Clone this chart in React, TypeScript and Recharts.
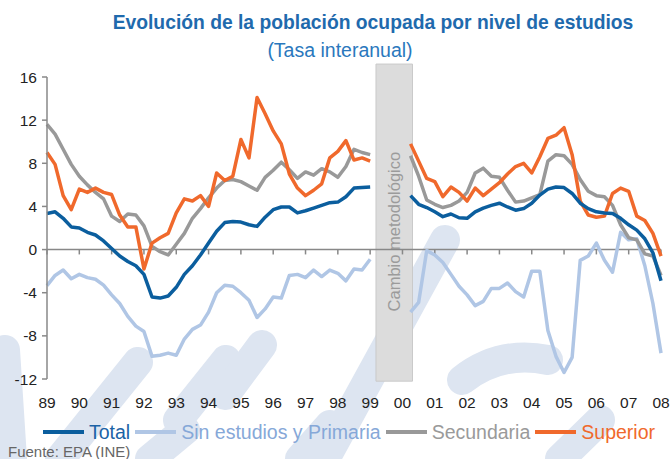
import React from 'react';
import { LineChart, Line, XAxis, YAxis, ReferenceLine, ReferenceArea } from 'recharts';

// Quarterly observations 1989Q1 .. 2008Q1 (null = methodological break)
const yearLabels = ['89','90','91','92','93','94','95','96','97','98','99','00','01','02','03','04','05','06','07','08'];
const yearTicks = [1989,1990,1991,1992,1993,1994,1995,1996,1997,1998,1999,2000,2001,2002,2003,2004,2005,2006,2007,2008];
const quartersPerYear = ['T1','T2','T3','T4'];
const yTicks = [-12,-8,-4,0,4,8,12,16];

const totalSeries: (number | null)[] = [
  3.35, 3.5, 2.9, 2.1, 2.0, 1.6, 1.35, 0.8, 0.1, -0.6,
  -1.1, -1.5, -2.3, -4.4, -4.5, -4.3, -3.5, -2.3, -1.5, -0.5,
  0.6, 1.7, 2.5, 2.6, 2.55, 2.3, 2.15, 3.0, 3.7, 3.95,
  3.95, 3.4, 3.6, 3.85, 4.1, 4.35, 4.4, 4.9, 5.7, 5.75, 5.8,
  null, null, null, null,
  5.0, 4.2, 3.9, 3.5, 3.05, 3.3, 2.95, 2.9, 3.5, 3.85,
  4.1, 4.3, 3.95, 3.65, 3.8, 4.3, 5.05, 5.6, 5.8, 5.75,
  5.2, 4.3, 3.8, 3.5, 3.4, 3.35, 2.9, 2.3, 1.8, 1.0,
  -0.3, -2.9,
];

const sinEstudiosSeries: (number | null)[] = [
  -3.35, -2.4, -1.9, -2.7, -2.3, -2.6, -2.75, -3.3, -4.2, -5.0,
  -6.2, -7.1, -7.6, -9.9, -9.8, -9.6, -9.8, -8.3, -7.4, -7.0,
  -5.8, -4.0, -3.3, -3.4, -4.0, -4.7, -6.3, -5.5, -4.4, -4.5,
  -2.4, -2.3, -2.6, -1.9, -2.5, -1.9, -2.2, -2.9, -1.8, -1.9, -0.9,
  null, null, null, null,
  -5.8, -4.9, -0.1, -0.5, -1.2, -2.3, -3.4, -4.2, -5.2, -4.8,
  -3.6, -3.6, -3.1, -3.9, -4.4, -2.0, -2.0, -7.5, -9.9, -11.4,
  -10.0, -1.0, -0.6, 0.6, -1.0, -2.1, 1.6, 0.9, 1.0, -1.5,
  -5.0, -9.6,
];

const secundariaSeries: (number | null)[] = [
  11.6, 10.7, 9.3, 7.9, 6.8, 6.0, 5.3, 4.7, 3.1, 2.6,
  3.3, 3.2, 2.2, 0.3, -0.2, -0.5, 0.5, 1.5, 2.9, 3.8,
  4.8, 5.7, 6.4, 6.5, 6.3, 5.9, 5.5, 6.7, 7.35, 8.1,
  7.4, 6.6, 7.2, 6.9, 7.5, 7.2, 6.7, 7.7, 9.3, 9.0, 8.8,
  null, null, null, null,
  8.7, 6.8, 4.6, 4.2, 3.9, 4.1, 4.5, 5.3, 7.1, 7.55,
  6.8, 6.7, 5.5, 4.4, 4.5, 4.8, 5.1, 8.2, 8.8, 8.7,
  7.9, 6.5, 5.4, 5.0, 4.9, 4.1, 2.3, 1.1, 0.9, -0.4,
  -0.6, -2.4,
];

const superiorSeries: (number | null)[] = [
  9.0, 7.9, 5.0, 3.7, 5.6, 5.3, 5.7, 5.3, 5.1, 3.2,
  2.1, 2.1, -1.8, 0.6, 1.1, 1.5, 3.4, 4.7, 4.5, 5.0,
  4.0, 7.1, 6.4, 6.8, 10.2, 8.5, 14.1, 12.6, 11.0, 9.8,
  7.0, 5.7, 5.0, 5.5, 6.1, 8.5, 9.1, 10.1, 8.3, 8.5, 8.2,
  null, null, null, null,
  9.8, 8.2, 6.6, 6.3, 4.9, 5.8, 5.3, 4.5, 5.7, 5.0,
  5.6, 6.2, 7.0, 7.7, 8.0, 7.1, 8.6, 10.3, 10.6, 11.3,
  8.8, 4.5, 3.2, 3.0, 3.1, 5.2, 5.7, 5.4, 3.1, 2.7,
  1.5, -0.6,
];

// Break annotation (in data coordinates)
const breakStart = 1999.18;
const breakEnd = 2000.31;
const breakLabel = 'Cambio metodológico';

const COLORS = {
  total: '#0b5e9e',
  sin: '#b0c6e5',
  sec: '#999999',
  sup: '#f0692c',
};

const rows: any[] = [];
let idx = 0;
for (let y = 0; y < yearTicks.length; y++) {
  for (let q = 0; q < quartersPerYear.length; q++) {
    if (idx >= totalSeries.length) break;
    rows.push({
      t: yearTicks[y] + q / 4,
      label: yearLabels[y] + quartersPerYear[q],
      total: totalSeries[idx],
      sin: sinEstudiosSeries[idx],
      sec: secundariaSeries[idx],
      sup: superiorSeries[idx],
    });
    idx++;
  }
}

const BoxLabel = (p: any) => {
  const vb = p.viewBox || {};
  const cx = vb.x + vb.width / 2;
  const cy = vb.y + vb.height / 2 + 9;
  return (
    <text
      x={cx}
      y={cy}
      transform={`rotate(-90 ${cx} ${cy})`}
      textAnchor="middle"
      dominantBaseline="central"
      fill="#9b9b9b"
      fontSize={16.5}
      fontFamily="'Liberation Sans', Arial, sans-serif"
    >
      {breakLabel}
    </text>
  );
};

const strokes = [
  'M 5 350 L 12 459',
  'M 60 459 L 138 362',
  'M 178 420 L 226 360',
  'M 225 395 L 262 345',
  'M 325 459 L 445 240',
  'M 462 380 Q 500 350 548 360',
  'M 150 459 L 185 430',
  'M 300 459 L 330 425',
  'M 560 459 L 600 420',
];

const legendItems = [
  { name: 'Total', color: COLORS.total, text: '#1b63a6' },
  { name: 'Sin estudios y Primaria', color: COLORS.sin, text: '#86a8d8' },
  { name: 'Secundaria', color: COLORS.sec, text: '#9a9a9a' },
  { name: 'Superior', color: COLORS.sup, text: '#f0692c' },
];

const font = "'Liberation Sans', Arial, Helvetica, sans-serif";

export default function App() {
  return (
    <div style={{ position: 'absolute', left: 0, top: 0, width: 671, height: 459, background: '#fff', overflow: 'hidden', fontFamily: font }}>
      <svg width={671} height={459} style={{ position: 'absolute', left: 0, top: 0 }}>
        {strokes.map((d, i) => (
          <path key={i} d={d} stroke="#dde5f1" strokeWidth={30} strokeLinecap="round" fill="none" />
        ))}
      </svg>
      <div style={{ position: 'absolute', left: 23, top: 12, width: 700, textAlign: 'center', fontSize: 19.3, fontWeight: 'bold', color: '#1f6aad', lineHeight: '22px', whiteSpace: 'nowrap' }}>
        Evolución de la población ocupada por nivel de estudios
      </div>
      <div style={{ position: 'absolute', left: 40, top: 39, width: 600, textAlign: 'center', fontSize: 19.5, color: '#2a78bd', lineHeight: '22px' }}>
        (Tasa interanual)
      </div>
      <div style={{ position: 'absolute', left: 0, top: 0 }}>
        <LineChart width={671} height={459} data={rows} margin={{ top: 77, right: 10, bottom: 50, left: 7 }}>
          <XAxis
            dataKey="t"
            type="number"
            domain={[1989, 2008]}
            ticks={yearTicks}
            tickFormatter={(v: number) => yearLabels[yearTicks.indexOf(v)]}
            axisLine={false}
            tickLine={false}
            tickSize={6}
            tickMargin={12}
            height={30}
            interval={0}
            tick={{ fill: '#222', fontSize: 15.5, fontFamily: font }}
          />
          <YAxis
            type="number"
            domain={[-12, 16]}
            ticks={yTicks}
            width={40}
            axisLine={{ stroke: '#888', strokeWidth: 1.5 }}
            tickLine={{ stroke: '#888', strokeWidth: 1.5 }}
            tickSize={5}
            tickMargin={5}
            interval={0}
            tick={{ fill: '#222', fontSize: 15.5, fontFamily: font }}
          />
          <ReferenceLine y={0} stroke="#888" strokeWidth={1.5} />
          {yearTicks.map((yr) => (
            <ReferenceLine
              key={yr}
              segment={[{ x: yr, y: 0 }, { x: yr, y: -0.45 }]}
              stroke="#888"
              strokeWidth={1.5}
            />
          ))}
          <Line type="linear" dataKey="sin" stroke={COLORS.sin} strokeWidth={3.5} dot={false} isAnimationActive={false} strokeLinejoin="round" />
          <Line type="linear" dataKey="sec" stroke={COLORS.sec} strokeWidth={3.5} dot={false} isAnimationActive={false} strokeLinejoin="round" />
          <Line type="linear" dataKey="sup" stroke={COLORS.sup} strokeWidth={3.5} dot={false} isAnimationActive={false} strokeLinejoin="round" />
          <Line type="linear" dataKey="total" stroke={COLORS.total} strokeWidth={3.5} dot={false} isAnimationActive={false} strokeLinejoin="round" />
          <ReferenceArea
            x1={breakStart}
            x2={breakEnd}
            y1={-12.2}
            y2={17.2}
            ifOverflow="visible"
            fill="#dcdcdc"
            fillOpacity={1}
            stroke="#cacaca"
            strokeWidth={1}
            label={BoxLabel}
          />
        </LineChart>
      </div>
      <div style={{ position: 'absolute', left: 43, top: 421, display: 'flex', alignItems: 'center', fontSize: 19.5, lineHeight: '22px', whiteSpace: 'nowrap' }}>
        {legendItems.map((it) => (
          <div key={it.name} style={{ display: 'flex', alignItems: 'center', marginRight: 5 }}>
            <span style={{ display: 'inline-block', width: 41, height: 4, background: it.color, marginRight: 5 }} />
            <span style={{ color: it.text }}>{it.name}</span>
          </div>
        ))}
      </div>
      <div style={{ position: 'absolute', left: 8, top: 444, fontSize: 15, color: '#666', lineHeight: '16px' }}>
        Fuente: EPA (INE)
      </div>
    </div>
  );
}
